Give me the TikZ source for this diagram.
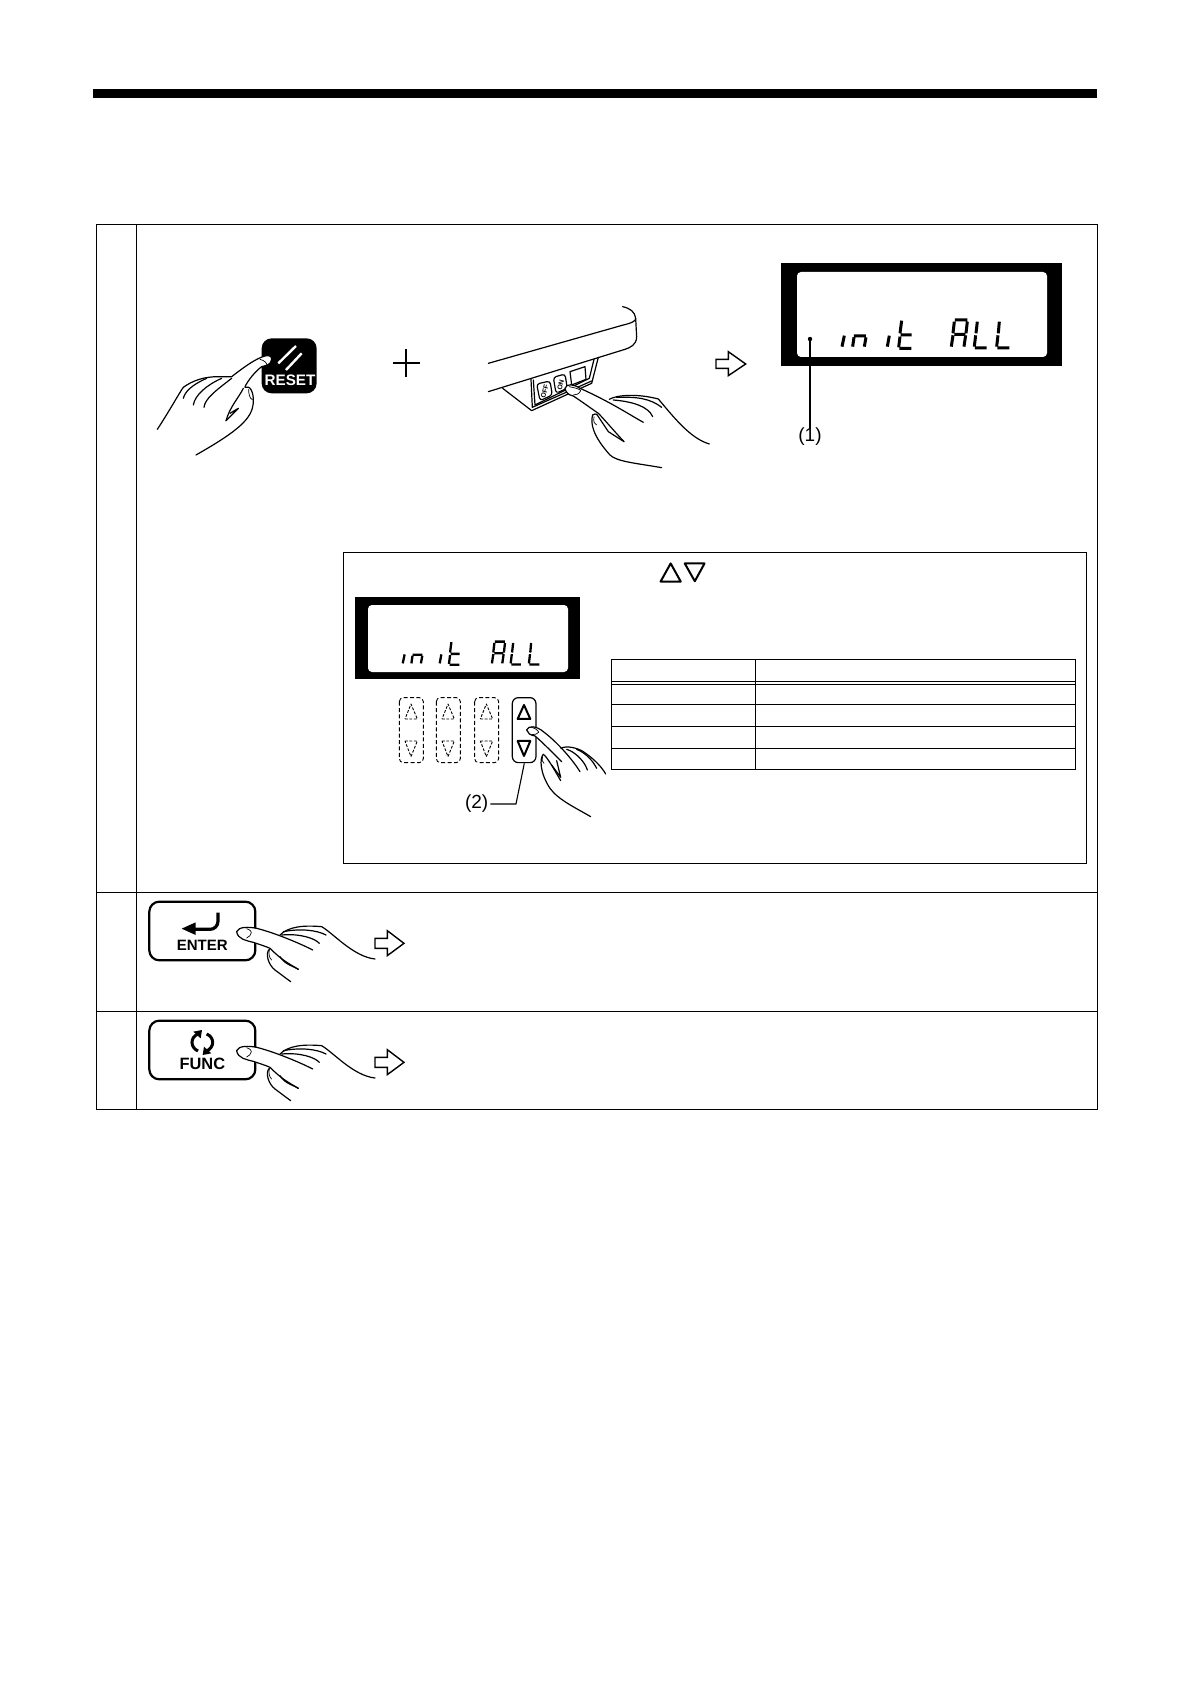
\documentclass[tikz,border=0pt]{standalone}
\usepackage{fontspec}
\setmainfont{Liberation Sans}
\tikzset{
  rule/.style={line width=0.5pt,draw=black},
  handline/.style={line width=0.6pt,draw=black,line cap=round,line join=round},
  nailline/.style={line width=0.35pt,draw=black,line cap=round,line join=round},
  seg/.style={line width=1.5pt,line cap=butt},
  seglow/.style={line width=1.15pt,line cap=butt},
  arrowshape/.style={line width=0.7pt,draw=black,fill=white,line join=miter},
  keybox/.style={line width=1.1pt,draw=black,rounded corners=5pt,fill=white},
  dashkey/.style={line width=0.45pt,draw=black,dashed,dash pattern=on 2pt off 1.2pt,rounded corners=2pt},
  dashtri/.style={line width=0.45pt,draw=black,dashed,dash pattern=on 1.4pt off 0.8pt,line join=round},
  soltri/.style={line width=1pt,draw=black,line join=round},
  lab/.style={inner sep=0pt,font=\fontsize{9.5}{10}\selectfont},
  keytext/.style={inner sep=0pt,font=\bfseries\fontsize{#1}{9}\selectfont},
}
\newcommand{\initall}[1]{%
  \draw[#1] (403,257)--(396,290);
  \draw[#1] (432,262)--(428,290) (468,262)--(463,290) (432,258)--(468,258);
  \draw[#1] (538,257)--(532,290);
  \draw[#1] (575,212)--(570,250) (570,260)--(566,292) (572,255)--(605,255) (568,295)--(604,295);
  \draw[#1] (735,210)--(772,210) (733,215)--(729,250) (772,215)--(768,250) (733,253)--(766,253) (729,256)--(724,290) (767,256)--(762,290);
  \draw[#1] (802,215)--(798,250) (797,256)--(793,290) (795,294)--(830,294);
  \draw[#1] (868,215)--(865,250) (864,256)--(860,290) (862,294)--(898,294);
}
% hand seen from the side, in 3x coordinates of its own
\newcommand{\sidehand}{%
  \path[fill=white] (50,65)..controls(55,50)and(85,50)..(110,55)--(180,75)--(180,110)--(150,115)--(100,97)..controls(80,92)and(55,88)..cycle;
  \draw[handline] (50,65)..controls(55,50)and(85,50)..(110,55)..controls(170,70)and(250,105)..(278,120);
  \draw[handline] (50,65)..controls(53,88)and(80,92)..(100,97)..controls(120,104)and(140,110)..(150,115)..controls(185,150)and(205,160)..(235,178);
  \draw[nailline] (80,56)..controls(92,60)and(94,65)..(94,68)..controls(92,76)and(88,80)..(80,84);
  \draw[handline] (180,75)..controls(205,50)and(250,45)..(305,50)..controls(340,70)and(400,140)..(465,147);
  \draw[handline] (190,65)..controls(240,55)and(290,60)..(318,75);
  \draw[handline] (185,75)..controls(240,70)and(285,85)..(298,100);
  \draw[handline] (148,118)..controls(135,130)and(145,165)..(165,180)--(212,215);
  \draw[nailline] (148,120)..controls(145,130)and(148,145)..(155,150);
  \draw[handline] (180,140)..controls(195,165)and(225,170)..(235,178);
}
\begin{document}
\begin{tikzpicture}[x=0.5pt,y=-0.5pt]
\path[use as bounding box,fill=white] (0,0) rectangle (1190,1684);
% header bar
\fill[black] (93,89) rectangle (1097,98);
% main table
\draw[rule] (96.5,225) rectangle (1097.5,1109.5);
\draw[rule] (136.5,225)--(136.5,1109.5);
\draw[rule] (96.5,892)--(1097.5,892);
\draw[rule] (96.5,1011)--(1097.5,1011);

% --- RESET hand ------
\begin{scope}[shift={(150,330)},scale=0.3333]
  \fill[black,rounded corners=5pt] (335,25) rectangle (500,190);
  \draw[white,line width=1.2pt] (385,100)--(438,48) (408,120)--(455,70);
  \node[keytext=7.6,text=white] (resetlabel) at (420,152) {RESET};
  \path[fill=white] (245,140)..controls(290,105)and(320,85)..(345,78)..controls(365,73)and(370,85)..(360,100)..controls(350,108)and(340,108)..(335,110)..controls(315,125)and(295,150)..(285,170)--(240,180)--cycle;
  \draw[handline] (245,140)..controls(290,105)and(320,85)..(345,78)..controls(365,73)and(370,85)..(360,100)..controls(350,108)and(340,108)..(335,110)..controls(315,125)and(295,150)..(285,170);
  \draw[nailline] (330,88)..controls(345,92)and(352,100)..(350,107);
  \draw[handline] (22,298)..controls(60,240)and(90,185)..(100,172)..controls(130,150)and(165,140)..(205,140)--(245,140);
  \draw[handline] (170,145)..controls(125,165)and(105,185)..(100,205);
  \draw[handline] (215,145)..controls(170,165)and(135,195)..(130,225);
  \draw[handline] (245,145)..controls(200,180)and(165,205)..(162,232);
  \draw[handline] (285,172)..controls(300,165)and(312,185)..(310,220)..controls(305,265)and(270,300)..(138,375);
  \draw[handline] (280,175)..controls(265,205)and(240,230)..(228,272);
  \draw[handline] (240,250)--(265,235) (228,272)--(265,235);
  \draw[nailline] (296,178)..controls(296,190)and(298,205)..(308,210);
\end{scope}

% --- plus ---
\draw[line width=1.3pt] (393,363)--(420,363) (406,349)--(406,377);

% --- machine and hand on ON ---
\begin{scope}[shift={(470,300)},scale=0.3333]
  \draw[handline] (55,190)--(460,75)..controls(490,68)and(497,62)..(497,55)..controls(495,35)and(480,25)..(458,20);
  \draw[handline] (497,55)--(500,110)..controls(500,135)and(480,143)..(465,148)--(55,275);
  \draw[handline] (98,265)--(185,332)--(365,250)--(385,172);
  \draw[handline] (183,238)--(187,322)--(365,243);
  \draw[handline] (190,240)--(195,315)--(358,235)--(372,178);
  \draw[handline,rounded corners=1.5pt] (200,252)--(240,243)--(247,285)--(210,302)--cycle;
  \draw[handline,rounded corners=1.5pt] (250,232)--(285,222)--(292,265)--(258,280)--cycle;
  \draw[handline] (300,215)--(345,200)--(348,238)--(305,255)--cycle;
  \node[inner sep=0pt,rotate=75,font=\bfseries\fontsize{3.4}{3}\selectfont] (offlabel) at (224,273) {OFF};
  \node[inner sep=0pt,rotate=75,font=\bfseries\fontsize{3.4}{3}\selectfont] (onlabel) at (272,255) {ON};
  \path[fill=white] (285,265)..controls(290,250)and(310,252)..(330,265)--(420,305)--(385,340)--(350,315)--(310,288)..controls(295,285)and(288,278)..cycle;
  \draw[handline] (285,265)..controls(290,250)and(310,252)..(330,265)..controls(420,305)and(480,345)..(520,367);
  \draw[handline] (285,265)..controls(288,278)and(295,285)..(310,288)..controls(350,315)and(370,330)..(385,340)..controls(400,355)and(425,385)..(462,425);
  \draw[nailline] (297,260)..controls(325,265)and(332,270)..(332,272)..controls(327,283)and(318,285)..(310,285);
  \draw[handline] (418,298)..controls(440,285)and(500,280)..(565,297)..controls(610,350)and(660,415)..(718,432);
  \draw[handline] (440,292)..controls(500,290)and(540,295)..(575,322);
  \draw[handline] (430,300)..controls(490,305)and(535,320)..(548,350);
  \draw[handline] (368,345)..controls(360,370)and(370,410)..(420,465)..controls(440,485)and(500,490)..(575,503);
  \draw[handline] (368,345)..controls(378,338)and(385,345)..(385,350)..controls(395,365)and(405,380)..(415,395)--(462,425);
  \draw[nailline] (372,350)..controls(370,365)and(372,372)..(380,375);
\end{scope}

% LCD 1
\fill[black] (781,263) rectangle (1062,366);
\fill[white,rounded corners=2pt] (797,272) rectangle (1047,357);
\begin{scope}[shift={(710,250)},scale=0.3333]
  \initall{seg}
  \draw[arrowshape] (18,328)--(55,328)--(55,305)--(107,342)--(55,377)--(55,355)--(18,355)--cycle;
\end{scope}
\coordinate (dotone) at (810,339);
\fill[black] (dotone) circle (1.1pt);
\node[lab] (one) at (810,437) {(1)};
\draw[line width=0.55pt] (dotone)--(one.north);

% --- inner box ------
\draw[rule] (343,552) rectangle (1086,863.5);
\begin{scope}[shift={(599.5,550)},scale=0.3356]
  \draw[line width=1pt,line join=round] (182,94)--(242,94)--(212,40)--cycle;
  \draw[line width=1pt,line join=round] (254,40)--(313,40)--(284,93)--cycle;
\end{scope}
% LCD 2
\fill[black] (355,597) rectangle (580,679);
\fill[white,rounded corners=2pt] (368,605) rectangle (568,672);
\begin{scope}[shift={(295,584.5)},scale=0.272]
  \initall{seglow}
\end{scope}
% inner table
\draw[rule] (611,659) rectangle (1075.5,769);
\draw[rule] (755.5,659)--(755.5,769);
\draw[rule] (611,681)--(1075.5,681);
\draw[rule] (611,684)--(1075.5,684);
\draw[rule] (611,704.5)--(1075.5,704.5);
\draw[rule] (611,726)--(1075.5,726);
\draw[rule] (611,748)--(1075.5,748);

% keys
\begin{scope}[shift={(340,550)},scale=0.3333]
  \foreach \kx in {178,289,404}{
    \draw[dashkey] (\kx,443) rectangle ++(72,195);
    \draw[dashtri] (\kx+17,507)--(\kx+54,507)--(\kx+35,462)--cycle;
    \draw[dashtri] (\kx+17,573)--(\kx+54,573)--(\kx+35,620)--cycle;
  }
  \draw[line width=0.6pt,rounded corners=3pt] (517,443) rectangle (588,638);
  \draw[soltri] (533,507)--(571,507)--(552,465)--cycle;
  \draw[soltri] (533,573)--(571,573)--(552,618)--cycle;
  \node[lab] (two) at (410,762) {(2)};
  \coordinate (elbow) at (528,762);
  \draw[line width=0.55pt] (two.east)++(5,0)--(elbow)--(553,640);
\end{scope}
% hand on key
\begin{scope}[shift={(500,690)},scale=0.3333]
  \path[fill=white] (80,120)..controls(85,105)and(110,108)..(130,125)--(183,175)--(170,220)--(130,193)--(120,150)--(105,138)..controls(90,135)and(83,130)..cycle;
  \draw[handline] (80,120)..controls(85,105)and(110,108)..(130,125)..controls(170,155)and(215,205)..(240,245);
  \draw[handline] (80,120)..controls(83,130)and(90,135)..(105,138)..controls(120,150)and(155,185)..(185,215);
  \draw[nailline] (92,111)..controls(110,115)and(116,125)..(116,127)..controls(112,132)and(105,134)..(96,134);
  \draw[handline] (183,175)..controls(200,165)and(235,175)..(250,185)..controls(280,205)and(305,230)..(317,252);
  \draw[handline] (200,178)..controls(225,185)and(255,215)..(262,240);
  \draw[handline] (230,178)..controls(260,190)and(280,215)..(290,235);
  \draw[handline] (130,193)..controls(118,205)and(120,250)..(150,295)..controls(175,330)and(230,355)..(272,380);
  \draw[handline] (130,193)..controls(140,200)and(155,225)..(182,272);
  \draw[handline] (155,225)--(182,262) (170,212)--(182,262);
  \draw[nailline] (128,200)..controls(125,210)and(127,217)..(132,220);
\end{scope}

% --- ENTER row ------
\begin{scope}[shift={(130,890)},scale=0.3333]
  \draw[keybox] (58,35) rectangle (376,211);
  \draw[line width=1.6pt,rounded corners=4pt] (264,68)--(264,118)--(195,118);
  \fill[black] (155,116)--(197,97)--(197,135)--cycle;
  \node[keytext=7.5] (enterlabel) at (217,165) {ENTER};
  \draw[arrowshape] (735,145)--(772,145)--(772,122)--(822,160)--(772,197)--(772,175)--(735,175)--cycle;
\end{scope}
\begin{scope}[shift={(220,910)},scale=0.3333]
  \sidehand
\end{scope}
% --- FUNC row ------
\begin{scope}[shift={(130,1009)},scale=0.3333]
  \draw[keybox] (58,35) rectangle (376,211);
  \draw[line width=1.5pt] (204,75)..controls(180,85)and(180,115)..(204,126);
  \draw[line width=1.5pt] (230,126)..controls(254,115)and(254,85)..(230,75);
  \fill[black] (190,68)--(216,63)--(212,88)--cycle;
  \fill[black] (244,133)--(218,138)--(222,113)--cycle;
  \node[keytext=8.2] (funclabel) at (217,165) {FUNC};
  \draw[arrowshape] (735,145)--(772,145)--(772,122)--(822,160)--(772,197)--(772,175)--(735,175)--cycle;
\end{scope}
\begin{scope}[shift={(220,1029)},scale=0.3333]
  \sidehand
\end{scope}
\end{tikzpicture}
\end{document}
